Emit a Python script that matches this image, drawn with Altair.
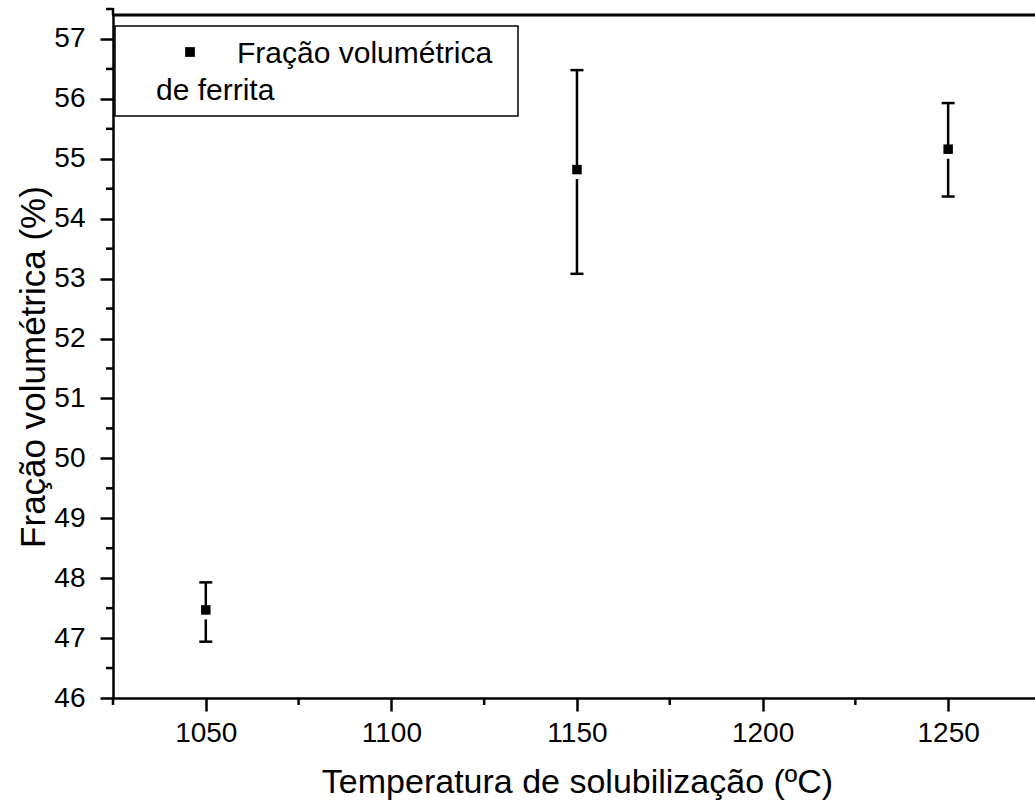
import altair as alt
import pandas as pd

# ---- data ----
temps = [1050, 1150, 1250]
fraction = [47.47, 54.82, 55.16]
err_low = [46.94, 53.08, 54.37]
err_high = [47.93, 56.48, 55.93]

x_major = [1050, 1100, 1150, 1200, 1250]
x_minor = [1025, 1075, 1125, 1175, 1225]
y_major = [46, 47, 48, 49, 50, 51, 52, 53, 54, 55, 56, 57]
y_minor = [46.5, 47.5, 48.5, 49.5, 50.5, 51.5, 52.5, 53.5, 54.5, 55.5, 56.5, 57.5]

legend_lines = ["Fração volumétrica", "de ferrita"]
x_title = "Temperatura de solubilização (ºC)"
y_title = "Fração volumétrica (%)"

FONT = "Liberation Sans"
W, H = 922, 683
LW = 2.5

df = pd.DataFrame({"temp": temps, "frac": fraction, "lo": err_low, "hi": err_high})
xs = alt.Scale(domain=[1025, 1273.4], nice=False, zero=False)
ys = alt.Scale(domain=[46, 57.4], nice=False, zero=False)

x_axis = alt.Axis(values=x_major, format="d", tickSize=13, tickWidth=LW, domainWidth=LW,
                  domainColor="black", tickColor="black", labelColor="black",
                  labelFontSize=28, labelFont=FONT, labelPadding=8, grid=False,
                  title=x_title, titleFont=FONT, titleFontSize=34, titleFontWeight="normal",
                  titleColor="black", titleBaseline="alphabetic", titleY=94, titleX=W / 2 + 3,
                  titleAlign="center")
y_axis = alt.Axis(values=y_major, format="d", tickSize=13, tickWidth=LW, domainWidth=LW,
                  domainColor="black", tickColor="black", labelColor="black",
                  labelFontSize=28, labelFont=FONT, labelPadding=15, grid=False,
                  title=y_title, titleFont=FONT, titleFontSize=35, titleFontWeight="normal",
                  titleColor="black", titleBaseline="alphabetic", titleX=-69,
                  titleY=H / 2 + 10, titleAngle=270, titleAlign="center")

base = alt.Chart(df)

bars = base.mark_rule(color="black", strokeWidth=LW).encode(
    x=alt.X("temp:Q", scale=xs, axis=x_axis),
    y=alt.Y("lo:Q", scale=ys, axis=y_axis),
    y2="hi:Q",
)
cap_lo = base.mark_tick(orient="horizontal", size=13, thickness=LW, color="black", opacity=1).encode(
    x=alt.X("temp:Q", scale=xs), y=alt.Y("lo:Q", scale=ys))
cap_hi = base.mark_tick(orient="horizontal", size=13, thickness=LW, color="black", opacity=1).encode(
    x=alt.X("temp:Q", scale=xs), y=alt.Y("hi:Q", scale=ys))
halo = base.mark_square(size=169, color="white", opacity=1, yOffset=3).encode(
    x=alt.X("temp:Q", scale=xs), y=alt.Y("frac:Q", scale=ys))
pts = base.mark_square(size=90, color="black", opacity=1).encode(
    x=alt.X("temp:Q", scale=xs), y=alt.Y("frac:Q", scale=ys))

# minor ticks
ym = alt.Chart(pd.DataFrame({"v": y_minor})).mark_rule(color="black", strokeWidth=LW).encode(
    y=alt.Y("v:Q", scale=ys), x=alt.value(-7), x2=alt.value(0))
xm = alt.Chart(pd.DataFrame({"v": x_minor})).mark_rule(color="black", strokeWidth=LW).encode(
    x=alt.X("v:Q", scale=xs), y=alt.value(H), y2=alt.value(H + 7))

one = alt.Chart(pd.DataFrame({"k": [0]}))
# top frame line and small extension of the left axis
top_line = one.mark_rule(color="black", strokeWidth=3).encode(
    x=alt.value(-1), x2=alt.value(W), y=alt.value(0))
y_ext = one.mark_rule(color="black", strokeWidth=LW).encode(
    x=alt.value(0), y=alt.value(-7), y2=alt.value(0))

# legend box
leg_box = one.mark_rect(fill="white", stroke="black", strokeWidth=1.5).encode(
    x=alt.value(2), x2=alt.value(405), y=alt.value(11), y2=alt.value(101))
leg_sym = one.mark_square(size=95, color="black", opacity=1).encode(
    x=alt.value(77), y=alt.value(37))
leg_t1 = alt.Chart(pd.DataFrame({"t": [legend_lines[0]]})).mark_text(
    align="left", baseline="alphabetic", font=FONT, fontSize=30, color="black").encode(
    text="t:N", x=alt.value(124), y=alt.value(48))
leg_t2 = alt.Chart(pd.DataFrame({"t": [legend_lines[1]]})).mark_text(
    align="left", baseline="alphabetic", font=FONT, fontSize=30, color="black").encode(
    text="t:N", x=alt.value(43), y=alt.value(85))

chart = alt.layer(
    bars, cap_lo, cap_hi, halo, pts, ym, xm, top_line, y_ext,
    leg_box, leg_sym, leg_t1, leg_t2
).properties(
    width=W, height=H,
    autosize=alt.AutoSizeParams(type="none"),
    padding={"left": 113, "top": 15, "right": 0, "bottom": 102},
).configure_view(stroke=None).configure(background="white")

chart.save("out.html", embed_options={"renderer": "svg", "actions": False})
